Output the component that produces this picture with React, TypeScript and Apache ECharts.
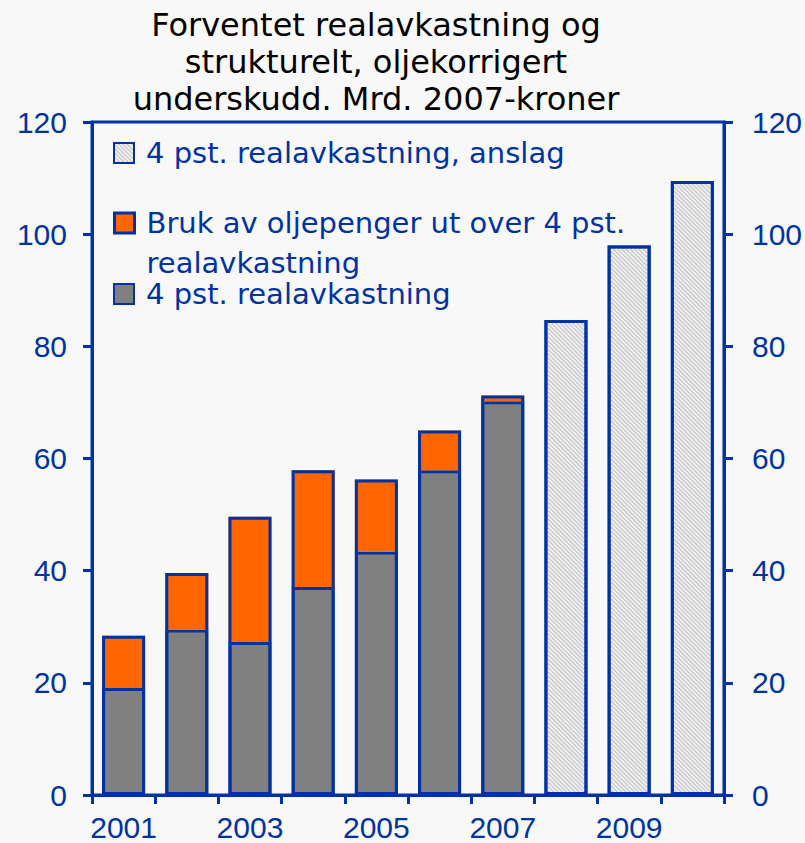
import React, { useEffect, useRef } from "react";
import * as echarts from "echarts";

const years = ["2001", "2002", "2003", "2004", "2005", "2006", "2007", "2008", "2009", "2010"];
const baseReturn = [19.1, 29.5, 27.3, 37.1, 43.4, 57.9, 70.2, "-", "-", "-"];
const extraOil = [9.3, 10.1, 22.3, 20.8, 12.85, 7.1, 1.05, "-", "-", "-"];
const forecast = ["-", "-", "-", "-", "-", "-", "-", 84.7, 98.0, 109.5];

const nameBase = "4 pst. realavkastning";
const nameExtra = "Bruk av oljepenger ut over 4 pst.\nrealavkastning";
const nameForecast = "4 pst. realavkastning, anslag";
const titleText = "Forventet realavkastning og\nstrukturelt, oljekorrigert\nunderskudd. Mrd. 2007-kroner";

const BLUE = "#0033a0";
const FONT = "DejaVu Sans";
const TICK_FONT = "Liberation Sans, Arial, sans-serif";

export default function App() {
  const ref = useRef<HTMLDivElement>(null);
  useEffect(() => {
    if (!ref.current) return;
    const chart = echarts.init(ref.current, null, { renderer: "svg" });
    // outline of each stacked (historic) bar = sum of its two parts
    const totals = baseReturn.map((v, i) =>
      typeof v === "number" && typeof extraOil[i] === "number" ? v + (extraOil[i] as number) : "-"
    );
    const yAxisCommon = {
      type: "value",
      min: 0,
      max: 120,
      interval: 20,
      splitLine: { show: false },
      axisLine: { show: true, lineStyle: { color: BLUE, width: 3 } },
      axisTick: { show: true, length: 9, lineStyle: { color: BLUE, width: 3 } },
      axisLabel: { color: BLUE, fontSize: 30, fontFamily: TICK_FONT },
    };
    const legendText = { color: BLUE, fontSize: 29, fontFamily: FONT, lineHeight: 40, padding: [0, 0, 0, 7] };
    const legendCommon = {
      orient: "vertical",
      left: 113,
      padding: 0,
      itemWidth: 20,
      itemHeight: 20,
      itemGap: 0,
      icon: "rect",
      selectedMode: false,
      textStyle: legendText,
    };
    const barBorder = { borderColor: BLUE, borderWidth: 3 };
    chart.setOption({
      animation: false,
      backgroundColor: "#f8f8f8",
      title: {
        text: titleText,
        left: 376,
        top: 6,
        padding: 0,
        textAlign: "center",
        textStyle: { color: "#000", fontSize: 32, fontWeight: "normal", fontFamily: FONT, lineHeight: 37 },
      },
      legend: [
        { ...legendCommon, top: 133, data: [nameForecast] },
        {
          ...legendCommon,
          top: 163,
          formatter: "\n{name}",
          data: [{ name: nameExtra, itemStyle: { color: "#ff6600", ...barBorder } }],
        },
        { ...legendCommon, top: 274, data: [nameBase] },
      ],
      grid: {
        left: 92,
        right: 81,
        top: 122,
        bottom: 48,
        show: true,
        borderColor: BLUE,
        borderWidth: 3,
        backgroundColor: "transparent",
      },
      xAxis: {
        type: "category",
        data: years,
        boundaryGap: true,
        axisLine: { show: true, lineStyle: { color: BLUE, width: 3 } },
        axisTick: { show: true, interval: 0, length: 9, lineStyle: { color: BLUE, width: 3 } },
        axisLabel: { interval: 1, color: BLUE, fontSize: 30, fontFamily: TICK_FONT, margin: 17 },
      },
      yAxis: [
        { ...yAxisCommon, position: "left", axisLabel: { ...yAxisCommon.axisLabel, margin: 25 } },
        { ...yAxisCommon, position: "right", axisLabel: { ...yAxisCommon.axisLabel, margin: 28 } },
      ],
      series: [
        {
          name: nameBase,
          type: "bar",
          stack: "a",
          barWidth: 43,
          barGap: "-100%",
          data: baseReturn,
          itemStyle: { color: "#808080", ...barBorder },
        },
        {
          name: nameExtra,
          type: "bar",
          stack: "a",
          barWidth: 43,
          barGap: "-100%",
          data: extraOil,
          itemStyle: { color: "#ff6600", borderWidth: 0 },
        },
        {
          name: nameForecast,
          type: "bar",
          stack: "a",
          barWidth: 43,
          barGap: "-100%",
          data: forecast,
          itemStyle: {
            color: "#f0f0f0",
            ...barBorder,
            decal: {
              symbol: "rect",
              symbolSize: 1,
              dashArrayX: [1, 0],
              dashArrayY: [1, 2],
              rotation: Math.PI / 4,
              color: "#c0c0c0",
              backgroundColor: "#f4f4f4",
            },
          },
        },
        {
          name: "outline",
          type: "bar",
          barWidth: 43,
          barGap: "-100%",
          data: totals,
          silent: true,
          itemStyle: { color: "transparent", ...barBorder },
        },
      ],
    });
    return () => chart.dispose();
  }, []);
  return (
    <div
      ref={ref}
      style={{ position: "fixed", left: 0, top: 0, width: 805, height: 843, background: "#f8f8f8" }}
    />
  );
}
